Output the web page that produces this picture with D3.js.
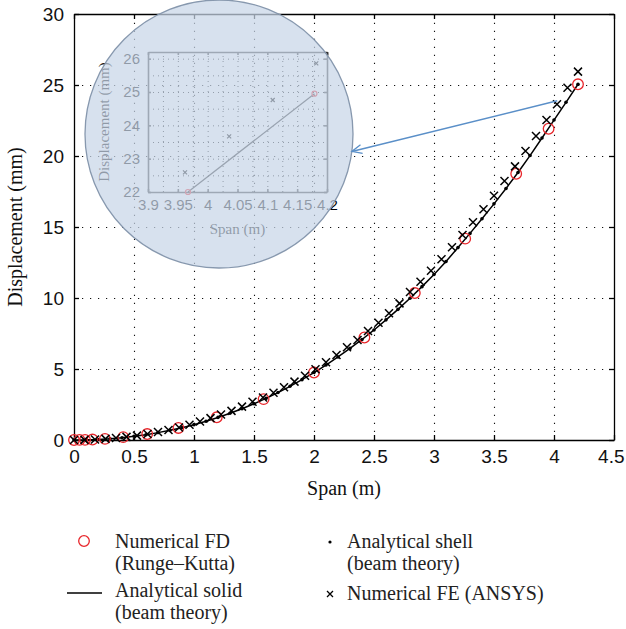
<!DOCTYPE html>
<html>
<head>
<meta charset="utf-8">
<script src="https://cdn.jsdelivr.net/npm/d3@7"></script>
<style>
body { margin: 0; background: #fff; }
svg { font-family: "Liberation Serif", "DejaVu Serif", serif; }
.grid line { stroke: #111; stroke-width: 1.1; stroke-dasharray: 1.2, 6.8; }
.grid path { display: none; }
.axis path, .axis line { stroke: #000; stroke-width: 1.3; }
.axis text { font-size: 19px; fill: #111; }
.label { font-size: 20px; fill: #111; }
.legend text { font-size: 20px; fill: #222; }
.inset .grid line { stroke: #111; stroke-width: 1; stroke-dasharray: 1, 4; }
.inset .axis path, .inset .axis line { stroke: #333; stroke-width: 1.6; }
.inset .axis text { font-size: 15px; fill: #000; }
.inset .label { font-size: 15px; fill: #000; }
</style>
</head>
<body>
<svg id="chart" width="626" height="629"></svg>
<script>
//tick values of the main plot
var xTicks = [0, 0.5, 1, 1.5, 2, 2.5, 3, 3.5, 4, 4.5];
var yTicks = [0, 5, 10, 15, 20, 25, 30];

//Numerical FD (Runge-Kutta), red circles
var fdSpan = [0, 0.046, 0.092, 0.154, 0.258, 0.41, 0.61, 0.87, 1.19, 1.58, 2.0, 2.42, 2.84, 3.26, 3.685, 3.955, 4.2];
var fdDisp = [0, 0.01, 0.01, 0.03, 0.08, 0.2, 0.42, 0.85, 1.6, 2.88, 4.75, 7.22, 10.35, 14.18, 18.75, 21.92, 25.05];

//Analytical solid (beam theory), black line
var solidSpan = [0, 0.1, 0.2, 0.3, 0.4, 0.5, 0.6, 0.7, 0.8, 0.9, 1.0, 1.1, 1.2, 1.3, 1.4, 1.5, 1.6, 1.7, 1.8, 1.9, 2.0, 2.1, 2.2, 2.3, 2.4, 2.5, 2.6, 2.7, 2.8, 2.9, 3.0, 3.1, 3.2, 3.3, 3.4, 3.5, 3.6, 3.7, 3.8, 3.9, 4.0, 4.1, 4.2];
var solidDisp = [0, 0.01, 0.04, 0.09, 0.16, 0.26, 0.37, 0.52, 0.68, 0.87, 1.08, 1.32, 1.59, 1.88, 2.2, 2.55, 2.93, 3.34, 3.78, 4.25, 4.75, 5.28, 5.85, 6.45, 7.08, 7.75, 8.46, 9.2, 9.98, 10.8, 11.66, 12.57, 13.55, 14.55, 15.58, 16.63, 17.71, 18.84, 20.03, 21.27, 22.53, 23.78, 25.05];

//Analytical shell (beam theory), small dots
var shellSpan = [0, 0.1, 0.2, 0.3, 0.4, 0.5, 0.6, 0.7, 0.8, 0.9, 1.0, 1.1, 1.2, 1.3, 1.4, 1.5, 1.6, 1.7, 1.8, 1.9, 2.0, 2.1, 2.2, 2.3, 2.4, 2.5, 2.6, 2.7, 2.8, 2.9, 3.0, 3.1, 3.2, 3.3, 3.4, 3.5, 3.6, 3.7, 3.8, 3.9, 4.0, 4.1, 4.2];
var shellDisp = [0, 0.01, 0.04, 0.09, 0.16, 0.26, 0.37, 0.52, 0.68, 0.87, 1.08, 1.32, 1.59, 1.88, 2.2, 2.55, 2.93, 3.34, 3.78, 4.25, 4.75, 5.28, 5.85, 6.45, 7.08, 7.75, 8.46, 9.2, 9.98, 10.8, 11.66, 12.57, 13.55, 14.55, 15.58, 16.63, 17.71, 18.84, 20.03, 21.27, 22.53, 23.78, 25.05];

//Numerical FE (ANSYS), crosses
var feSpan = [0, 0.0875, 0.175, 0.2625, 0.35, 0.4375, 0.525, 0.6125, 0.7, 0.7875, 0.875, 0.9625, 1.05, 1.1375, 1.225, 1.3125, 1.4, 1.4875, 1.575, 1.6625, 1.75, 1.8375, 1.925, 2.0125, 2.1, 2.1875, 2.275, 2.3625, 2.45, 2.5375, 2.625, 2.7125, 2.8, 2.8875, 2.975, 3.0625, 3.15, 3.2375, 3.325, 3.4125, 3.5, 3.5875, 3.675, 3.7625, 3.85, 3.9375, 4.025, 4.1125, 4.2];
var feDisp = [0, 0.01, 0.04, 0.08, 0.14, 0.22, 0.31, 0.42, 0.56, 0.71, 0.88, 1.08, 1.3, 1.54, 1.8, 2.05, 2.35, 2.7, 2.99, 3.33, 3.71, 4.11, 4.53, 4.98, 5.47, 5.99, 6.53, 7.04, 7.68, 8.26, 8.92, 9.62, 10.42, 11.15, 11.92, 12.73, 13.57, 14.44, 15.33, 16.25, 17.2, 18.24, 19.27, 20.35, 21.41, 22.53, 23.64, 24.81, 25.94];

//zoomed inset
var insetXTicks = [3.9, 3.95, 4, 4.05, 4.1, 4.15, 4.2];
var insetYTicks = [22, 23, 24, 25, 26];
var insetFdSpan = [3.967, 4.179];
var insetFdDisp = [22.0, 24.95];
var insetFeSpan = [3.962, 4.036, 4.109, 4.182];
var insetFeDisp = [22.59, 23.67, 24.76, 25.86];

//legend text
var legendFd = ["Numerical FD", "(Runge\u2013Kutta)"];
var legendShell = ["Analytical shell", "(beam theory)"];
var legendSolid = ["Analytical solid", "(beam theory)"];
var legendFe = ["Numerical FE (ANSYS)"];

var RED = "#e8262b";

function zip(xs, ys) {
	return xs.map(function(d, i) { return {x: d, y: ys[i]}; });
}

var svg = d3.select("#chart");
var plot = {left: 74, right: 614, top: 14, bottom: 440};
var graph_w = plot.right - plot.left, graph_h = plot.bottom - plot.top;

var x = d3.scaleLinear().domain([0, 4.5]).range([plot.left, plot.right]);
var y = d3.scaleLinear().domain([0, 30]).range([plot.bottom, plot.top]);

// gridlines
svg.append("g")
	.attr("class", "grid")
	.attr("transform", "translate(0," + plot.bottom + ")")
	.call(d3.axisBottom(x).tickValues(xTicks.slice(1, -1)).tickSize(-graph_h).tickFormat(""));
svg.append("g")
	.attr("class", "grid")
	.attr("transform", "translate(" + plot.left + ",0)")
	.call(d3.axisLeft(y).tickValues(yTicks.slice(1, -1)).tickSize(-graph_w).tickFormat(""));

// box with inward ticks on all sides
var fmt = function(d) { return String(d); };
var xAxisG = svg.append("g").attr("class", "axis")
	.attr("transform", "translate(0," + plot.bottom + ")")
	.call(d3.axisBottom(x).tickValues(xTicks).tickSizeInner(-5).tickSizeOuter(0).tickPadding(10).tickFormat(fmt));
//last label sits against the right edge of the page
xAxisG.selectAll(".tick text").filter(function(d) { return d === 4.5; })
	.attr("text-anchor", "end")
	.attr("dx", 10);
svg.append("g").attr("class", "axis")
	.attr("transform", "translate(0," + plot.top + ")")
	.call(d3.axisTop(x).tickValues(xTicks).tickSizeInner(-5).tickSizeOuter(0).tickFormat(""));
svg.append("g").attr("class", "axis")
	.attr("transform", "translate(" + plot.left + ",0)")
	.call(d3.axisLeft(y).tickValues(yTicks).tickSizeInner(-5).tickSizeOuter(0).tickPadding(10).tickFormat(fmt));
svg.append("g").attr("class", "axis")
	.attr("transform", "translate(" + plot.right + ",0)")
	.call(d3.axisRight(y).tickValues(yTicks).tickSizeInner(-5).tickSizeOuter(0).tickFormat(""));

svg.append("text").attr("class", "label")
	.attr("text-anchor", "middle")
	.attr("x", (plot.left + plot.right) / 2)
	.attr("y", 495)
	.text("Span (m)");
svg.append("text").attr("class", "label")
	.attr("text-anchor", "middle")
	.attr("transform", "translate(22," + (plot.top + plot.bottom) / 2 + ") rotate(-90)")
	.text("Displacement (mm)");

// series
var line = d3.line()
	.x(function(d) { return x(d.x); })
	.y(function(d) { return y(d.y); });

svg.append("path")
	.datum(zip(solidSpan, solidDisp))
	.attr("fill", "none")
	.attr("stroke", "#000")
	.attr("stroke-width", 1.5)
	.attr("d", line);

svg.append("g").selectAll("circle")
	.data(zip(shellSpan, shellDisp))
	.join("circle")
	.attr("cx", function(d) { return x(d.x); })
	.attr("cy", function(d) { return y(d.y); })
	.attr("r", 1.8)
	.attr("fill", "#000");

svg.append("g").selectAll("circle")
	.data(zip(fdSpan, fdDisp))
	.join("circle")
	.attr("cx", function(d) { return x(d.x); })
	.attr("cy", function(d) { return y(d.y); })
	.attr("r", 5.3)
	.attr("fill", "none")
	.attr("stroke", RED)
	.attr("stroke-width", 1.3);

function crossPath(s) {
	return "M" + (-s) + "," + (-s) + "L" + s + "," + s + "M" + (-s) + "," + s + "L" + s + "," + (-s);
}

svg.append("g").selectAll("path")
	.data(zip(feSpan, feDisp))
	.join("path")
	.attr("transform", function(d) { return "translate(" + x(d.x) + "," + y(d.y) + ")"; })
	.attr("d", crossPath(4))
	.attr("stroke", "#000")
	.attr("stroke-width", 1.5);

// inset: zoom on the tip
var inset = svg.append("g").attr("class", "inset");
var ix = d3.scaleLinear().domain([3.9, 4.2]).range([148, 327]);
var iy = d3.scaleLinear().domain([22, 26.2]).range([192, 52]);
var iw = 327 - 148, ih = 192 - 52;

var insetXGrid = d3.range(0, 13).map(function(i) { return 3.9 + i * 0.025; });
var insetYGrid = d3.range(0, 9).map(function(i) { return 22 + i * 0.5; });
inset.append("g").attr("class", "grid")
	.attr("transform", "translate(0,192)")
	.call(d3.axisBottom(ix).tickValues(insetXGrid.slice(1, -1)).tickSize(-ih).tickFormat(""));
inset.append("g").attr("class", "grid")
	.attr("transform", "translate(148,0)")
	.call(d3.axisLeft(iy).tickValues(insetYGrid.slice(1)).tickSize(-iw).tickFormat(""));

inset.append("g").attr("class", "axis")
	.attr("transform", "translate(0,192)")
	.call(d3.axisBottom(ix).tickValues(insetXTicks).tickSizeInner(-3).tickSizeOuter(0).tickPadding(7).tickFormat(fmt));
inset.append("g").attr("class", "axis")
	.attr("transform", "translate(0,52)")
	.call(d3.axisTop(ix).tickValues(insetXTicks).tickSizeInner(-3).tickSizeOuter(0).tickFormat(""));
inset.append("g").attr("class", "axis")
	.attr("transform", "translate(148,0)")
	.call(d3.axisLeft(iy).tickValues(insetYTicks).tickSizeInner(-3).tickSizeOuter(0).tickPadding(8).tickFormat(fmt));
inset.append("g").attr("class", "axis")
	.attr("transform", "translate(327,0)")
	.call(d3.axisRight(iy).tickValues(insetYTicks).tickSizeInner(-3).tickSizeOuter(0).tickFormat(""));

inset.append("text").attr("class", "label")
	.attr("text-anchor", "middle")
	.attr("x", (148 + 327) / 2)
	.attr("y", 234)
	.text("Span (m)");
inset.append("text").attr("class", "label")
	.attr("text-anchor", "middle")
	.attr("transform", "translate(109," + (52 + 192) / 2 + ") rotate(-90)")
	.text("Displacement (mm)");

var iline = d3.line()
	.x(function(d) { return ix(d.x); })
	.y(function(d) { return iy(d.y); });
inset.append("path")
	.datum(zip(insetFdSpan, insetFdDisp))
	.attr("fill", "none")
	.attr("stroke", "#222")
	.attr("stroke-width", 1.2)
	.attr("d", iline);
inset.append("g").selectAll("circle")
	.data(zip(insetFdSpan, insetFdDisp))
	.join("circle")
	.attr("cx", function(d) { return ix(d.x); })
	.attr("cy", function(d) { return iy(d.y); })
	.attr("r", 2.5)
	.attr("fill", "none")
	.attr("stroke", RED)
	.attr("stroke-width", 1.2);
inset.append("g").selectAll("path")
	.data(zip(insetFeSpan, insetFeDisp))
	.join("path")
	.attr("transform", function(d) { return "translate(" + ix(d.x) + "," + iy(d.y) + ")"; })
	.attr("d", crossPath(2))
	.attr("stroke", "#000")
	.attr("stroke-width", 1.2);

// magnifier disc over the inset
var lens = {cx: 219, cy: 134, r: 134};
svg.append("circle")
	.attr("cx", lens.cx)
	.attr("cy", lens.cy)
	.attr("r", lens.r)
	.attr("fill", "#c8d6e8")
	.attr("fill-opacity", 0.72)
	.attr("stroke", "#8798ae")
	.attr("stroke-width", 1.3);

// arrow from the tip to the disc
svg.append("defs").append("marker")
	.attr("id", "head")
	.attr("markerUnits", "userSpaceOnUse")
	.attr("viewBox", "-12 -6 14 12")
	.attr("refX", 0).attr("refY", 0)
	.attr("markerWidth", 14).attr("markerHeight", 12)
	.attr("orient", "auto")
	.append("path")
	.attr("d", "M-10,-4.5L0,0L-10,4.5")
	.attr("fill", "none")
	.attr("stroke", "#5a8fc8")
	.attr("stroke-width", 1.3);

var ang = 7.5 * Math.PI / 180;
svg.append("line")
	.attr("x1", x(4.027)).attr("y1", y(23.89))
	.attr("x2", lens.cx + lens.r * Math.cos(ang))
	.attr("y2", lens.cy + lens.r * Math.sin(ang))
	.attr("stroke", "#5a8fc8")
	.attr("stroke-width", 1.4)
	.attr("marker-end", "url(#head)");

// legend
var lg = svg.append("g").attr("class", "legend");
function legendText(lines, tx, ty) {
	lines.forEach(function(t, i) {
		lg.append("text").attr("x", tx).attr("y", ty + i * 21.5).text(t);
	});
}
lg.append("circle").attr("cx", 84).attr("cy", 541).attr("r", 5.3)
	.attr("fill", "none").attr("stroke", RED).attr("stroke-width", 1.3);
legendText(legendFd, 115, 548);
lg.append("circle").attr("cx", 330).attr("cy", 542).attr("r", 1.6).attr("fill", "#000");
legendText(legendShell, 347, 548);
lg.append("line").attr("x1", 67).attr("x2", 102).attr("y1", 593).attr("y2", 593)
	.attr("stroke", "#000").attr("stroke-width", 1.6);
legendText(legendSolid, 115, 597);
lg.append("path").attr("transform", "translate(330,594)").attr("d", crossPath(3))
	.attr("stroke", "#000").attr("stroke-width", 1.3);
legendText(legendFe, 347, 600);
</script>
</body>
</html>
